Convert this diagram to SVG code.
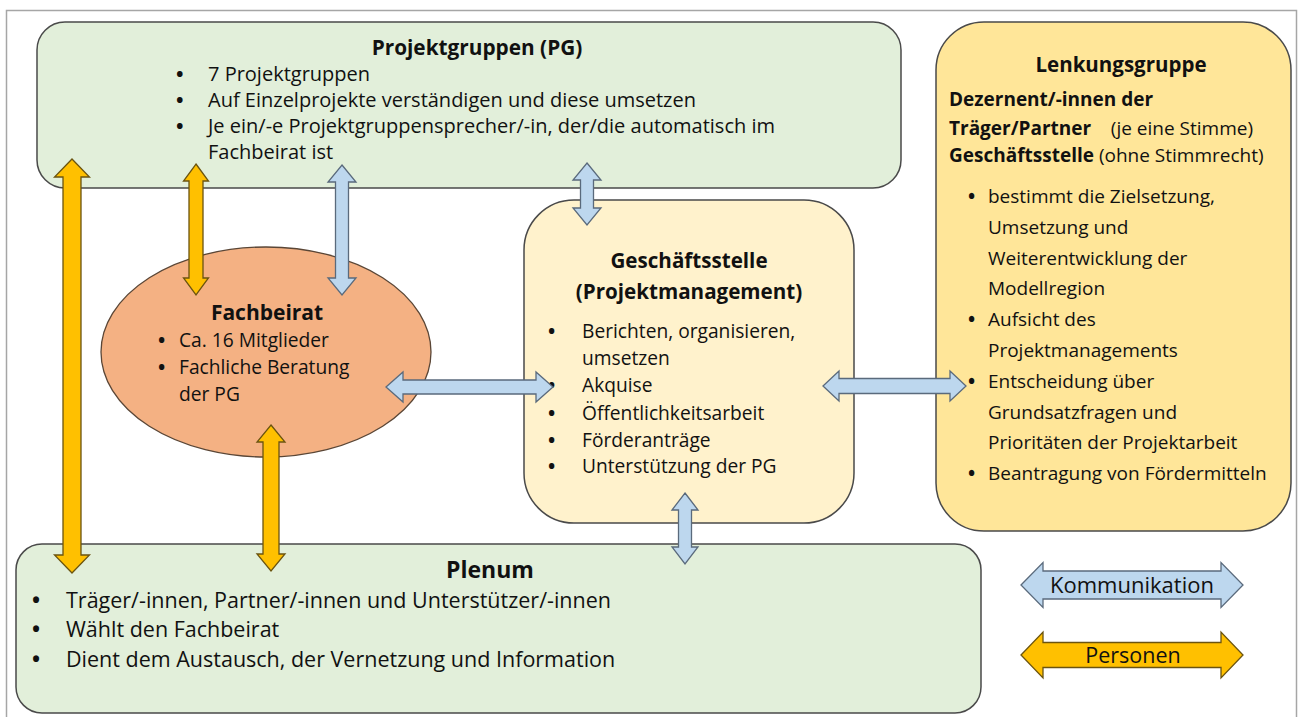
<svg xmlns="http://www.w3.org/2000/svg" width="1298" height="717" viewBox="0 0 1298 717">
<style>
.t{font-family:"Open Sans","Liberation Sans",sans-serif;fill:#111;}
.b{font-weight:bold;}
.u{font-weight:bold;}
.box{stroke:#4a4a4a;stroke-width:1.5;}
.green{fill:#E2EFDA;}
.or{fill:#FFC000;stroke:#6b5410;stroke-width:1.3;}
.bl{fill:#BDD7EE;stroke:#5a6a7c;stroke-width:1.3;}
</style>
<rect x="6.5" y="10.5" width="1290" height="720" fill="#fff" stroke="#a6a6a6" stroke-width="1.5"/>
<g id="projektgruppen">
<rect class="box green" x="37" y="22" width="864" height="166" rx="28"/>
<text class="t b" x="477" y="55" font-size="20.8" text-anchor="middle">Projektgruppen (PG)</text>
<g class="t" font-size="20">
<text class="u" x="176" y="81">•</text><text x="208" y="81">7 Projektgruppen</text>
<text class="u" x="176" y="107">•</text><text x="208" y="107">Auf Einzelprojekte verständigen und diese umsetzen</text>
<text class="u" x="176" y="133">•</text><text x="208" y="133">Je ein/-e Projektgruppensprecher/-in, der/die automatisch im</text>
<text x="208" y="159">Fachbeirat ist</text>
</g>
</g>
<g id="lenkungsgruppe">
<rect class="box" x="936" y="22" width="355" height="509" rx="48" fill="#FFE699"/>
<text class="t b" x="1121" y="72" font-size="20.5" text-anchor="middle">Lenkungsgruppe</text>
<g class="t" font-size="19">
<text x="949" y="106" class="b">Dezernent/-innen der</text>
<text x="949" y="135" class="b">Träger/Partner</text>
<text x="1253" y="135" text-anchor="end">(je eine Stimme)</text>
<text x="949" y="162"><tspan class="b">Geschäftsstelle</tspan> (ohne Stimmrecht)</text>
<text class="u" x="968" y="203">•</text><text x="988" y="203">bestimmt die Zielsetzung,</text>
<text x="988" y="234">Umsetzung und</text>
<text x="988" y="265">Weiterentwicklung der</text>
<text x="988" y="295">Modellregion</text>
<text class="u" x="968" y="326">•</text><text x="988" y="326">Aufsicht des</text>
<text x="988" y="357">Projektmanagements</text>
<text class="u" x="968" y="388">•</text><text x="988" y="388">Entscheidung über</text>
<text x="988" y="419">Grundsatzfragen und</text>
<text x="988" y="449">Prioritäten der Projektarbeit</text>
<text class="u" x="968" y="480">•</text><text x="988" y="480">Beantragung von Fördermitteln</text>
</g>
</g>
<g id="geschaeftsstelle">
<rect class="box" x="524" y="200" width="330" height="323" rx="50" fill="#FFF2CC"/>
<text class="t b" x="689" y="268" font-size="20.6" text-anchor="middle">Geschäftsstelle</text>
<text class="t b" x="689" y="299" font-size="20.6" text-anchor="middle">(Projektmanagement)</text>
<g class="t" font-size="19.2">
<text class="u" x="548" y="338">•</text><text x="582" y="338">Berichten, organisieren,</text>
<text x="582" y="365">umsetzen</text>
<text class="u" x="548" y="392">•</text><text x="582" y="392">Akquise</text>
<text class="u" x="548" y="420">•</text><text x="582" y="420">Öffentlichkeitsarbeit</text>
<text class="u" x="548" y="447">•</text><text x="582" y="447">Förderanträge</text>
<text class="u" x="548" y="473">•</text><text x="582" y="473">Unterstützung der PG</text>
</g>
</g>
<g id="fachbeirat">
<ellipse cx="266" cy="352" rx="165" ry="105" fill="#F4B183" stroke="#5a4636" stroke-width="1.3"/>
<text class="t b" x="267" y="320" font-size="21" text-anchor="middle">Fachbeirat</text>
<g class="t" font-size="19.2">
<text class="u" x="158" y="347">•</text><text x="179" y="347">Ca. 16 Mitglieder</text>
<text class="u" x="158" y="374">•</text><text x="179" y="374">Fachliche Beratung</text>
<text x="179" y="401">der PG</text>
</g>
</g>
<g id="plenum">
<rect class="box green" x="16" y="544" width="965" height="169" rx="26"/>
<text class="t b" x="490" y="578" font-size="23" text-anchor="middle">Plenum</text>
<g class="t" font-size="21.5">
<text class="u" x="32" y="608">•</text><text x="66" y="608">Träger/-innen, Partner/-innen und Unterstützer/-innen</text>
<text class="u" x="32" y="637">•</text><text x="66" y="637">Wählt den Fachbeirat</text>
<text class="u" x="32" y="667">•</text><text x="66" y="667">Dient dem Austausch, der Vernetzung und Information</text>
</g>
</g>
<g id="connectors">
<polygon class="or" points="72,159 89.5,177 81,177 81,555 89.5,555 72,573 54.5,555 63,555 63,177 54.5,177"/>
<polygon class="or" points="196,164 208.5,181 203,181 203,278 208.5,278 196,295 183.5,278 189,278 189,181 183.5,181"/>
<polygon class="bl" points="342,165 356,182 348.5,182 348.5,278 356,278 342,295 328,278 335.5,278 335.5,182 328,182"/>
<polygon class="bl" points="587,163 601,180 593.5,180 593.5,208 601,208 587,225 573,208 580.5,208 580.5,180 573,180"/>
<polygon class="or" points="271,425 285,442 279,442 279,554 285,554 271,571 257,554 263,554 263,442 257,442"/>
<polygon class="bl" points="685,493 698,510 691.5,510 691.5,547 698,547 685,564 672,547 678.5,547 678.5,510 672,510"/>
<polygon class="bl" points="386,387 403,372 403,380 536,380 536,372 553,387 536,402 536,394 403,394 403,402"/>
<polygon class="bl" points="823,386 839,371 839,378.5 950,378.5 950,371 966,386 950,401 950,393.5 839,393.5 839,401"/>
</g>
<g id="legend">
<polygon class="bl" points="1021,585 1043,562.5 1043,571 1221,571 1221,562.5 1243,585 1221,607.5 1221,599 1043,599 1043,607.5"/>
<text class="t" x="1132" y="593" font-size="22" text-anchor="middle" fill="#1F2A44">Kommunikation</text>
<polygon class="or" points="1021,655 1043,632 1043,642.5 1221,642.5 1221,632 1243,655 1221,678 1221,667.5 1043,667.5 1043,678"/>
<text class="t" x="1133" y="663" font-size="21.5" text-anchor="middle">Personen</text>
</g>
</svg>
